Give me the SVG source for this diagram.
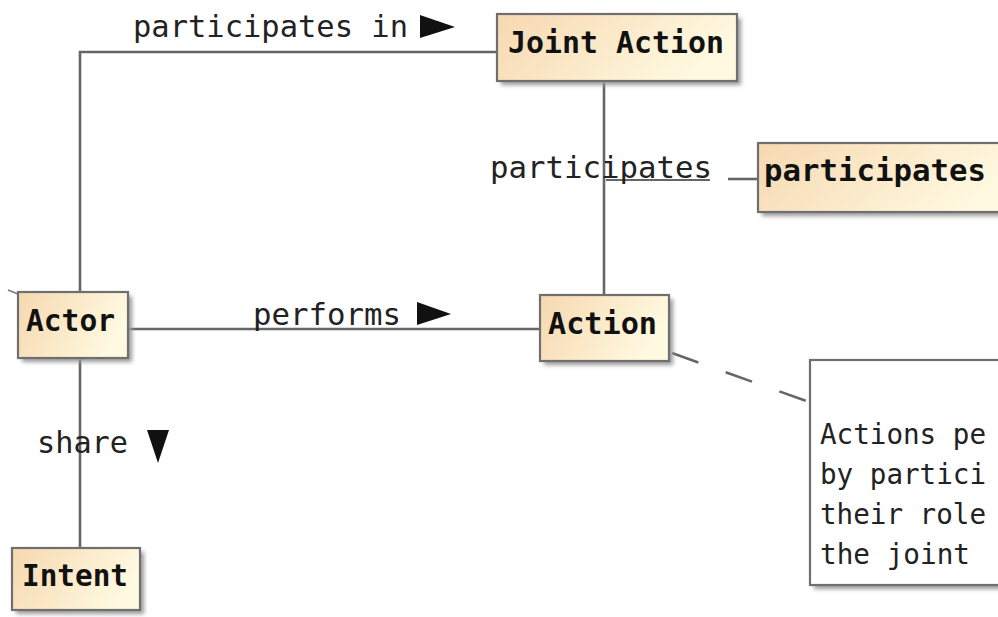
<svg xmlns="http://www.w3.org/2000/svg" width="998" height="617" viewBox="0 0 998 617">
<defs>
<linearGradient id="g" x1="0" y1="0" x2="1" y2="0.3">
<stop offset="0" stop-color="#F6D8B0"/>
<stop offset="1" stop-color="#FFF9E0"/>
</linearGradient>
<filter id="sh" x="-10%" y="-10%" width="130%" height="140%">
<feGaussianBlur stdDeviation="2"/>
</filter>
</defs>
<style>
.box{fill:url(#g);stroke:#6f6f6f;stroke-width:2.2}
.shadow{fill:#9a9a9a;filter:url(#sh)}
.bt{font-family:"DejaVu Sans Mono","Liberation Mono",monospace;font-weight:bold;font-size:31px;fill:#111}
.lt{font-family:"DejaVu Sans Mono","Liberation Mono",monospace;font-size:30px;fill:#222}
.nt{font-family:"DejaVu Sans Mono","Liberation Mono",monospace;font-size:29px;fill:#222}
.ln{stroke:#666;stroke-width:2.6;fill:none}
.tri{fill:#111}
</style>
<rect width="998" height="617" fill="#fff"/>
<g id="connectors">
<polyline class="ln" points="80,292 80,52 497,52"/>
<line class="ln" x1="604" y1="81" x2="604" y2="295"/>
<line class="ln" x1="128" y1="329" x2="540" y2="329"/>
<line class="ln" x1="80" y1="358" x2="80" y2="548"/>
<line stroke="#666" stroke-width="1.8" x1="606" y1="180" x2="710" y2="180"/>
<line class="ln" x1="728" y1="179" x2="758" y2="179"/>
<line class="ln" x1="672" y1="353" x2="809" y2="402" stroke-dasharray="28,29" stroke-width="2"/>
<line stroke="#777" stroke-width="1.5" x1="8" y1="290" x2="18" y2="294"/>
<text class="lt" x="133" y="37" textLength="275" lengthAdjust="spacingAndGlyphs">participates in</text>
<polygon class="tri" points="420,15 455,27 420,38"/>
<text class="lt" x="490" y="178" textLength="222" lengthAdjust="spacingAndGlyphs">participates</text>
<text class="lt" x="253" y="325" textLength="148" lengthAdjust="spacingAndGlyphs">performs</text>
<polygon class="tri" points="417,302 451,314 417,325"/>
<text class="lt" x="37" y="453" textLength="91" lengthAdjust="spacingAndGlyphs">share</text>
<polygon class="tri" points="147,430 169,430 158,463"/>
</g>
<g id="joint-action">
<rect class="shadow" x="501" y="18" width="240" height="67"/>
<rect class="box" x="497" y="14" width="240" height="67"/>
<text class="bt" x="508" y="53" textLength="216" lengthAdjust="spacingAndGlyphs">Joint Action</text>
</g>
<g id="participates">
<rect class="shadow" x="762" y="147" width="260" height="69"/>
<rect class="box" x="758" y="143" width="260" height="69"/>
<text class="bt" x="764" y="181" textLength="222" lengthAdjust="spacingAndGlyphs">participates</text>
</g>
<g id="actor">
<rect class="shadow" x="22" y="296" width="110" height="66"/>
<rect class="box" x="18" y="292" width="110" height="66"/>
<text class="bt" x="26" y="331" textLength="89" lengthAdjust="spacingAndGlyphs">Actor</text>
</g>
<g id="action">
<rect class="shadow" x="544" y="299" width="129" height="66"/>
<rect class="box" x="540" y="295" width="129" height="66"/>
<text class="bt" x="548" y="334" textLength="109" lengthAdjust="spacingAndGlyphs">Action</text>
</g>
<g id="intent">
<rect class="shadow" x="16" y="552" width="128" height="62"/>
<rect class="box" x="12" y="548" width="128" height="62"/>
<text class="bt" x="22" y="586" textLength="106" lengthAdjust="spacingAndGlyphs">Intent</text>
</g>
<g id="note">
<rect class="shadow" x="814" y="364" width="200" height="225"/>
<rect x="810" y="360" width="200" height="225" fill="#fff" stroke="#6f6f6f" stroke-width="2.2"/>
<text class="nt" x="820" y="444" textLength="166" lengthAdjust="spacingAndGlyphs">Actions pe</text>
<text class="nt" x="820" y="484" textLength="166" lengthAdjust="spacingAndGlyphs">by partici</text>
<text class="nt" x="820" y="524" textLength="166" lengthAdjust="spacingAndGlyphs">their role</text>
<text class="nt" x="820" y="564" textLength="150" lengthAdjust="spacingAndGlyphs">the joint</text>
</g>
</svg>
